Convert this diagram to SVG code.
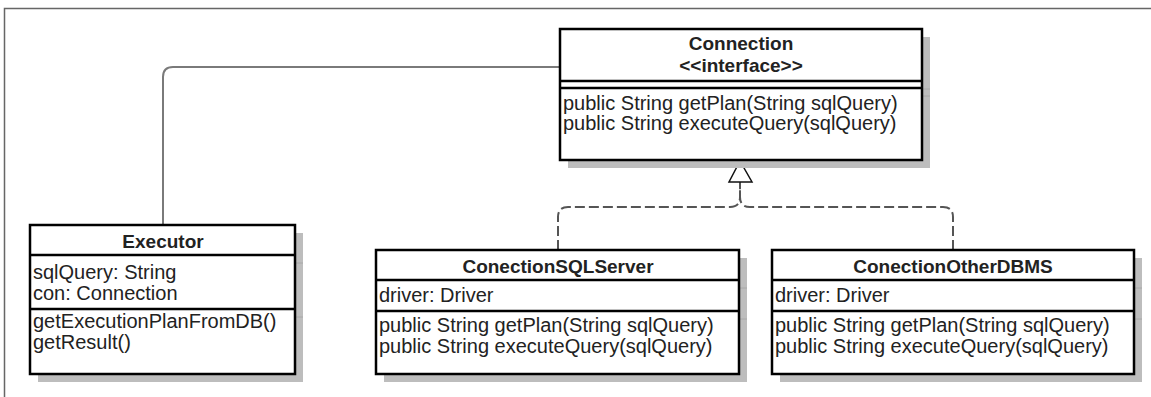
<svg xmlns="http://www.w3.org/2000/svg" width="1151" height="397" viewBox="0 0 1151 397">
<style>
.frame{fill:none;stroke:#666;stroke-width:1.5}
.shadow{fill:#bdbdbd}
.stub{stroke:#a8a8a8;stroke-width:1}
.box{fill:#fff;stroke:#000;stroke-width:2.5}
.sep{stroke:#000;stroke-width:2.5}
.title{font-family:"Liberation Sans",Arial,sans-serif;font-size:19px;font-weight:bold;fill:#222;text-anchor:middle}
.body{font-family:"Liberation Sans",Arial,sans-serif;font-size:20px;fill:#222}
.assoc{fill:none;stroke:#7a7a7a;stroke-width:2}
.real{fill:none;stroke:#555;stroke-width:2;stroke-dasharray:10 4}
.head{fill:#fff;stroke:#111;stroke-width:1.5}
</style>
<rect width="1151" height="397" fill="#fff"/>
<path class="frame" d="M4.5,397 V8.5 H1151"/>
<g id="connectors">
<path class="assoc" d="M163,225 V77 Q163,67 173,67 H560"/>
<path class="real" d="M558,250 V217 Q558,207 568,207 H730 Q740,207 740,197 V182"/>
<path class="real" d="M953,250 V217 Q953,207 943,207 H750 Q740,207 740,197 V182"/>
<path class="head" d="M740,161 L729,182 L752,182 Z"/>
</g>
<g id="connection">
<rect class="shadow" x="568" y="37" width="362" height="131"/>
<line class="stub" x1="922" y1="89" x2="930" y2="89"/>
<line class="stub" x1="922" y1="96" x2="930" y2="96"/>
<rect class="box" x="560" y="29" width="362" height="131"/>
<line class="sep" x1="560" y1="81" x2="922" y2="81"/>
<line class="sep" x1="560" y1="88" x2="922" y2="88"/>
<text class="title" x="741" y="50">Connection</text>
<text class="title" x="741" y="72">&lt;&lt;interface&gt;&gt;</text>
<text class="body" x="563" y="110">public String getPlan(String sqlQuery)</text>
<text class="body" x="563" y="130">public String executeQuery(sqlQuery)</text>
</g>
<g id="executor">
<rect class="shadow" x="38" y="233" width="265" height="149"/>
<line class="stub" x1="295" y1="263" x2="303" y2="263"/>
<line class="stub" x1="295" y1="317" x2="303" y2="317"/>
<rect class="box" x="30" y="225" width="265" height="149"/>
<line class="sep" x1="30" y1="255" x2="295" y2="255"/>
<line class="sep" x1="30" y1="309" x2="295" y2="309"/>
<text class="title" x="163" y="248">Executor</text>
<text class="body" x="33" y="279">sqlQuery: String</text>
<text class="body" x="33" y="300">con: Connection</text>
<text class="body" x="33" y="328">getExecutionPlanFromDB()</text>
<text class="body" x="33" y="349">getResult()</text>
</g>
<g id="conectionSQLServer">
<rect class="shadow" x="384" y="258" width="363" height="124"/>
<line class="stub" x1="739" y1="288" x2="747" y2="288"/>
<line class="stub" x1="739" y1="319" x2="747" y2="319"/>
<rect class="box" x="376" y="250" width="363" height="124"/>
<line class="sep" x1="376" y1="280" x2="739" y2="280"/>
<line class="sep" x1="376" y1="311" x2="739" y2="311"/>
<text class="title" x="558" y="273">ConectionSQLServer</text>
<text class="body" x="379" y="302">driver: Driver</text>
<text class="body" x="379" y="332">public String getPlan(String sqlQuery)</text>
<text class="body" x="379" y="353">public String executeQuery(sqlQuery)</text>
</g>
<g id="conectionOtherDBMS">
<rect class="shadow" x="780" y="258" width="362" height="124"/>
<line class="stub" x1="1134" y1="288" x2="1142" y2="288"/>
<line class="stub" x1="1134" y1="319" x2="1142" y2="319"/>
<rect class="box" x="772" y="250" width="362" height="124"/>
<line class="sep" x1="772" y1="280" x2="1134" y2="280"/>
<line class="sep" x1="772" y1="311" x2="1134" y2="311"/>
<text class="title" x="953" y="273">ConectionOtherDBMS</text>
<text class="body" x="775" y="302">driver: Driver</text>
<text class="body" x="775" y="332">public String getPlan(String sqlQuery)</text>
<text class="body" x="775" y="353">public String executeQuery(sqlQuery)</text>
</g>
</svg>
